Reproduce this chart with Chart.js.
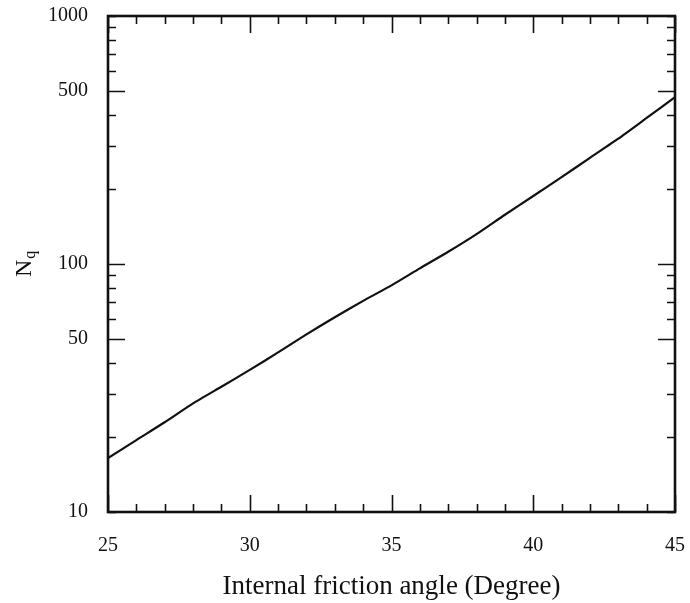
<!DOCTYPE html>
<html>
<head>
<meta charset="utf-8">
<script src="https://cdn.jsdelivr.net/npm/chart.js@4.4.1/dist/chart.umd.min.js"></script>
<style>
  html, body { margin: 0; padding: 0; background: #fff; }
  #wrap { width: 690px; height: 603px; }
</style>
</head>
<body>
<div id="wrap"><canvas id="nqChart" width="690" height="603"></canvas></div>
<script>
// friction angle (deg) and bearing capacity factor Nq
const angles = [25, 26, 27, 28, 29, 30, 31, 32, 33, 34, 35, 36, 37, 38, 39, 40, 41, 42, 43, 44, 45];
const nqValues = [16.5, 19.5, 23, 27.4, 32, 37.4, 44, 52, 61, 71, 82, 96, 112, 132, 158, 188, 224, 268, 320, 388, 471];

// axis ticks
const xTicks = [25, 26, 27, 28, 29, 30, 31, 32, 33, 34, 35, 36, 37, 38, 39, 40, 41, 42, 43, 44, 45];
const xLabels = [25, 30, 35, 40, 45];
const yTicks = [10, 20, 30, 40, 50, 60, 70, 80, 90, 100, 200, 300, 400, 500, 600, 700, 800, 900, 1000];
const yLabels = [10, 50, 100, 500, 1000];
const yLong = [50, 100, 500];

const serif = "'Liberation Serif', 'DejaVu Serif', serif";
const ink = '#111';

// inward tick marks on all four sides + frame + rotated N_q title
const framePlugin = {
  id: 'frame',
  afterDraw(chart) {
    const ctx = chart.ctx;
    const a = chart.chartArea;
    const xs = chart.scales.x, ys = chart.scales.y;
    ctx.save();
    ctx.strokeStyle = ink;
    ctx.lineWidth = 1.6;
    ctx.beginPath();
    xTicks.forEach(v => {
      const px = Math.round(xs.getPixelForValue(v)) + 0.5;
      const len = xLabels.includes(v) ? 17 : 8;
      ctx.moveTo(px, a.bottom); ctx.lineTo(px, a.bottom - len);
      ctx.moveTo(px, a.top); ctx.lineTo(px, a.top + len);
    });
    yTicks.forEach(v => {
      const py = Math.round(ys.getPixelForValue(v)) + 0.5;
      const len = yLong.includes(v) ? 17 : 8;
      ctx.moveTo(a.left, py); ctx.lineTo(a.left + len, py);
      ctx.moveTo(a.right, py); ctx.lineTo(a.right - len, py);
    });
    ctx.stroke();

    ctx.lineWidth = 2.6;
    ctx.strokeRect(a.left, a.top, a.right - a.left, a.bottom - a.top);

    // y title: N with subscript q, turned 90 degrees
    ctx.translate(31, 268);
    ctx.rotate(-Math.PI / 2);
    ctx.fillStyle = ink;
    ctx.textBaseline = 'alphabetic';
    ctx.font = '24px ' + serif;
    const nw = ctx.measureText('N').width;
    ctx.fillText('N', -9, 0);
    ctx.font = '16px ' + serif;
    ctx.fillText('q', -9 + nw + 1, 4);
    ctx.restore();
  }
};

new Chart(document.getElementById('nqChart'), {
  type: 'line',
  data: {
    labels: angles,
    datasets: [{
      data: angles.map((a, i) => ({ x: a, y: nqValues[i] })),
      borderColor: ink,
      borderWidth: 2.2,
      pointRadius: 0,
      tension: 0.2,
      fill: false
    }]
  },
  options: {
    responsive: false,
    animation: false,
    layout: { padding: { left: 0, right: 15, top: 16, bottom: 0 } },
    plugins: { legend: { display: false }, tooltip: { enabled: false } },
    scales: {
      x: {
        type: 'linear',
        min: 25, max: 45,
        grid: { display: false },
        border: { display: false },
        afterBuildTicks: s => { s.ticks = xTicks.map(v => ({ value: v })); },
        afterFit: s => { s.height = 91; s.paddingLeft = 0; s.paddingRight = 0; },
        ticks: {
          autoSkip: false,
          maxRotation: 0,
          padding: 14,
          color: ink,
          font: { family: serif, size: 20 },
          callback: v => xLabels.includes(v) ? String(v) : ''
        },
        title: {
          display: true,
          text: 'Internal friction angle (Degree)',
          color: ink,
          font: { family: serif, size: 27 },
          padding: { top: 0, bottom: 0 }
        }
      },
      y: {
        type: 'logarithmic',
        min: 10, max: 1000,
        grid: { display: false },
        border: { display: false },
        afterBuildTicks: s => { s.ticks = yTicks.map(v => ({ value: v })); },
        afterFit: s => { s.width = 108; s.paddingTop = 0; s.paddingBottom = 0; },
        ticks: {
          autoSkip: false,
          padding: 12,
          color: ink,
          font: { family: serif, size: 20 },
          callback: v => yLabels.includes(v) ? String(v) : ''
        }
      }
    }
  },
  plugins: [framePlugin]
});
</script>
</body>
</html>
